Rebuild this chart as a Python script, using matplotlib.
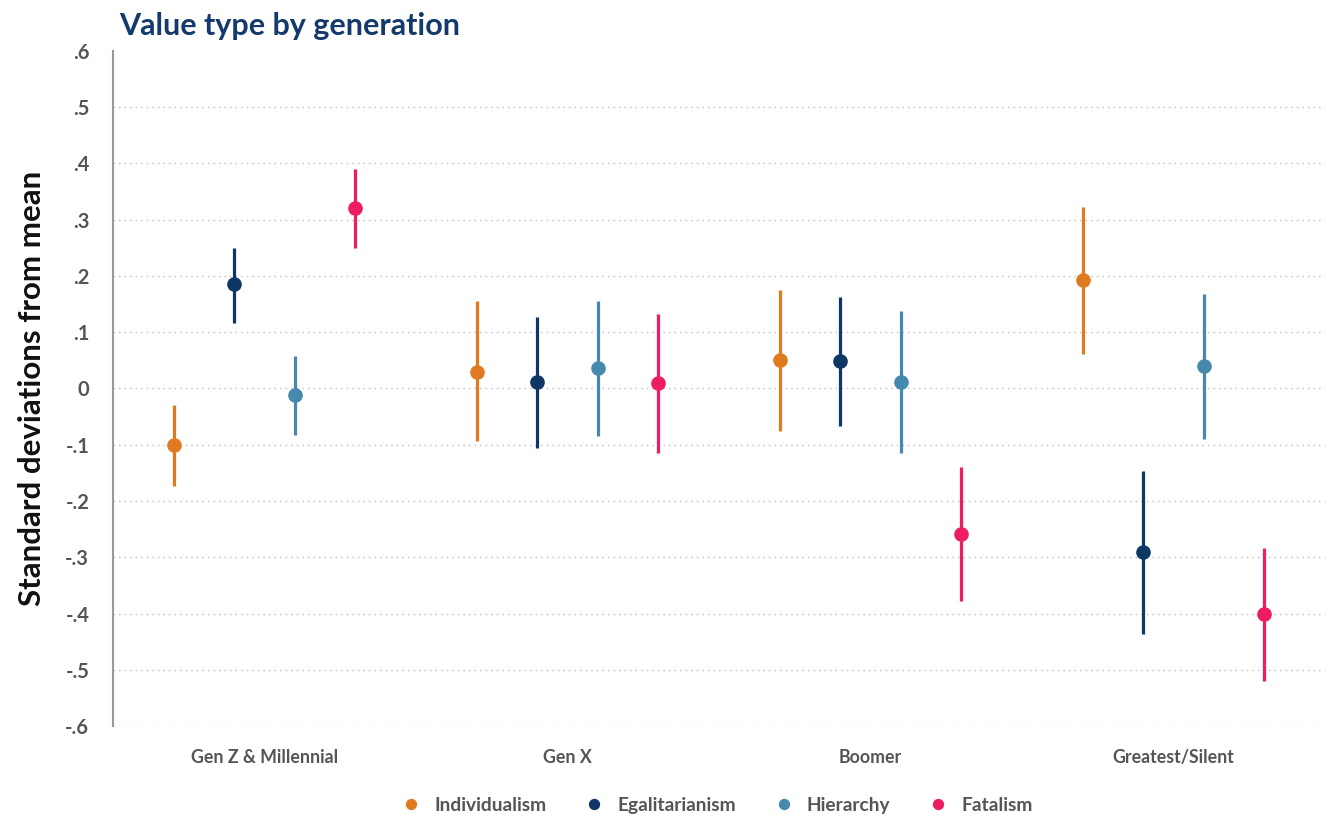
import matplotlib.pyplot as plt
import numpy as np

plt.rcParams['font.family'] = ['Lato', 'DejaVu Sans']

generations = ["Gen Z & Millennial", "Gen X", "Boomer", "Greatest/Silent"]
value_types = ["Individualism", "Egalitarianism", "Hierarchy", "Fatalism"]
colors = ["#E07A1F", "#0E3766", "#4589AE", "#EE1D62"]

# estimates per value type, one entry per generation
est = {
    "Individualism":  [-0.101, 0.030, 0.050, 0.192],
    "Egalitarianism": [0.185, 0.011, 0.048, -0.291],
    "Hierarchy":      [-0.012, 0.036, 0.011, 0.039],
    "Fatalism":       [0.320, 0.009, -0.259, -0.401],
}
lo = {
    "Individualism":  [-0.174, -0.094, -0.076, 0.062],
    "Egalitarianism": [0.117, -0.105, -0.067, -0.437],
    "Hierarchy":      [-0.082, -0.085, -0.114, -0.089],
    "Fatalism":       [0.249, -0.114, -0.378, -0.519],
}
hi = {
    "Individualism":  [-0.030, 0.155, 0.174, 0.323],
    "Egalitarianism": [0.249, 0.126, 0.163, -0.147],
    "Hierarchy":      [0.057, 0.155, 0.137, 0.167],
    "Fatalism":       [0.389, 0.133, -0.140, -0.284],
}
yticks = [-0.6, -0.5, -0.4, -0.3, -0.2, -0.1, 0, 0.1, 0.2, 0.3, 0.4, 0.5, 0.6]
ytick_labels = ["-.6", "-.5", "-.4", "-.3", "-.2", "-.1", "0", ".1", ".2", ".3", ".4", ".5", ".6"]

fig = plt.figure(figsize=(13.29, 8.16), dpi=100)
ax = fig.add_axes([0.085, 0.110, 0.912, 0.828])

offsets = [-0.3, -0.1, 0.1, 0.3]
x = np.arange(len(generations))
for vt, off, c in zip(value_types, offsets, colors):
    xs = x + off
    ax.vlines(xs, lo[vt], hi[vt], color=c, lw=2.3, zorder=3)
    ax.plot(xs, est[vt], "o", color=c, ms=9.5, zorder=4, label=vt, linestyle="none")

ax.set_xlim(-0.5, 3.5)
ax.set_ylim(-0.6, 0.6)
ax.set_yticks(yticks)
ax.set_yticklabels(ytick_labels, fontsize=14.5, fontweight="bold", color="#555555")
ax.set_xticks(x)
ax.set_xticklabels(generations, fontsize=12.8, fontweight="bold", color="#555555")
ax.tick_params(axis="both", length=0)
ax.tick_params(axis="y", pad=17)
ax.tick_params(axis="x", pad=16.5)

ax.grid(axis="y", linestyle=(0, (1, 3)), color="#BBBBBB", lw=1)
ax.get_ygridlines()[-1].set_visible(False)
ax.set_axisbelow(True)
for s in ["top", "right", "bottom"]:
    ax.spines[s].set_visible(False)
ax.spines["left"].set_color("#999999")
ax.spines["left"].set_linewidth(1.5)

ax.set_ylabel("Standard deviations from mean", fontsize=22.5, fontweight="bold", color="#111111", labelpad=14)
fig.text(0.090, 0.968, "Value type by generation", fontsize=22, fontweight="bold", color="#143A6B", va="center")

leg = fig.legend(loc="center", bbox_to_anchor=(0.536, 0.013), ncol=4, frameon=False,
                 fontsize=13.8, handletextpad=0.2, columnspacing=1.5, markerscale=0.75)
for t in leg.get_texts():
    t.set_color("#555555")
    t.set_fontweight("bold")

fig.savefig("out.png", dpi=100)
